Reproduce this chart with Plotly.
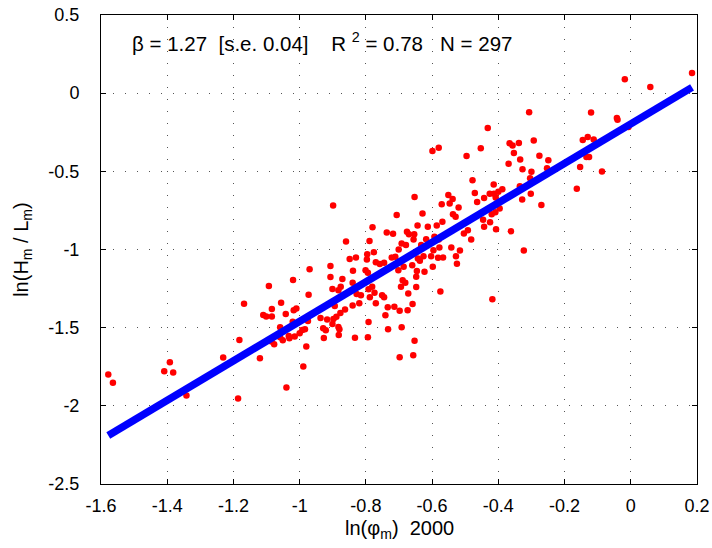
import plotly.graph_objects as go

# Estimated scatter data (ln(phi_m) 2000, ln(H_m/L_m))
x_pts = [
    -1.578, -1.564, -1.409, -1.392, -1.382, -1.342, -1.231, -1.186, -1.182, -1.168,
    -1.120, -1.093, -1.110, -1.101, -1.084, -1.084, -1.056, -1.042, -1.085, -1.077,
    -1.059, -1.059, -1.051, -1.033, -1.031, -1.040, -1.021,
    -0.899, -0.780, -0.737, -0.718, -0.860, -0.789,
    -0.849, -0.830, -0.796, -0.797, -0.776, -0.770, -0.758, -0.745, -0.722, -0.711,
    -0.907, -0.970, -0.839, -0.801, -0.794, -0.907, -0.871, -1.020, -0.840, -0.876,
    -0.901, -0.883, -0.792, -0.781, -0.774, -0.828, -0.815, -0.788, -0.751, -0.745,
    -0.973, -0.820, -0.770, -0.840, -0.894, -0.863, -0.734, -1.010, -1.018, -0.877,
    -0.889, -0.898, -0.937, -0.917, -0.741, -0.975, -0.901, -0.792, -0.883, -0.880,
    -0.929, -0.921, -0.984, -0.992, -1.000, -0.733, -0.882, -1.015, -0.833, -0.794,
    -0.927, -0.980, -0.989,
    -0.653, -0.551, -0.471, -0.443, -0.426, -0.413, -0.408, -0.538, -0.547, -0.571,
    -0.520, -0.464, -0.707, -0.629, -0.537, -0.529, -0.446, -0.420, -0.409, -0.569,
    -0.425, -0.644, -0.613, -0.586, -0.443, -0.407, -0.676, -0.670, -0.654, -0.656,
    -0.618, -0.593, -0.580, -0.504, -0.492, -0.482, -0.692, -0.679, -0.701, -0.633,
    -0.596, -0.578, -0.542, -0.516, -0.603, -0.626, -0.643, -0.637, -0.582, -0.567,
    -0.528, -0.525, -0.702, -0.686, -0.660, -0.598, -0.646, -0.623, -0.648, -0.689,
    -0.681, -0.694, -0.648, -0.575, -0.672, -0.659, -0.714, -0.698, -0.674, -0.418,
    -0.692, -0.653, -0.698, -0.657,
    -0.432, -0.599, -0.580, -0.453, -0.496, -0.366, -0.357, -0.353, -0.369, -0.478,
    -0.414, -0.388, -0.400,
    -0.307, -0.120, -0.338, -0.293, -0.334, -0.276, -0.249, -0.327, -0.300, -0.253,
    -0.304, -0.335, -0.302, -0.328, -0.270, -0.396, -0.362, -0.323, -0.145, -0.130,
    -0.112, -0.134, -0.126, -0.153, -0.087, -0.163,
    -0.018, 0.059, 0.185, -0.042, -0.040, -0.007,
]
y_pts = [
    -1.800, -1.853, -1.779, -1.721, -1.787, -1.934, -1.691, -1.953, -1.579, -1.347,
    -1.696, -1.234, -1.419, -1.428, -1.428, -1.381, -1.340, -1.413, -1.589, -1.606,
    -1.498, -1.562, -1.581, -1.553, -1.568, -1.883, -1.462,
    -0.719, -0.857, -0.891, -0.900, -0.949, -0.945,
    -1.061, -1.051, -1.030, -1.064, -1.017, -1.081, -1.093, -1.085, -1.051, -1.047,
    -1.106, -1.127, -1.136, -1.132, -1.149, -1.176, -1.189, -1.195, -1.212, -1.238,
    -1.253, -1.261, -1.255, -1.238, -1.276, -1.285, -1.293, -1.306, -1.293, -1.306,
    -1.289, -1.344, -1.344, -1.359, -1.361, -1.383, -1.370, -1.378, -1.389, -1.406,
    -1.430, -1.444, -1.438, -1.447, -1.421, -1.457, -1.476, -1.464, -1.495, -1.510,
    -1.504, -1.517, -1.510, -1.515, -1.536, -1.510, -1.547, -1.557, -1.564, -1.561,
    -1.566, -1.621, -1.749,
    -0.664, -0.651, -0.638, -0.670, -0.643, -0.643, -0.668, -0.677, -0.706, -0.711,
    -0.732, -0.696, -0.779, -0.770, -0.774, -0.791, -0.809, -0.774, -0.762, -0.823,
    -0.826, -0.847, -0.855, -0.847, -0.855, -0.870, -0.887, -0.902, -0.902, -0.936,
    -0.934, -0.919, -0.936, -0.898, -0.877, -0.936, -0.962, -0.972, -1.000, -0.972,
    -1.004, -0.987, -0.987, -1.006, -1.043, -1.043, -1.057, -1.072, -1.053, -1.051,
    -1.043, -1.091, -1.132, -1.111, -1.100, -1.111, -1.138, -1.143, -1.174, -1.196,
    -1.213, -1.238, -1.240, -1.268, -1.281, -1.349, -1.366, -1.391, -1.389, -1.319,
    -1.498, -1.583, -1.689, -1.677,
    -0.223, -0.370, -0.349, -0.353, -0.402, -0.321, -0.334, -0.383, -0.451, -0.557,
    -0.585, -0.615, -0.630,
    -0.122, -0.124, -0.318, -0.303, -0.424, -0.401, -0.429, -0.486, -0.503, -0.480,
    -0.544, -0.595, -0.644, -0.680, -0.716, -0.738, -0.883, -1.006, -0.299, -0.281,
    -0.296, -0.409, -0.409, -0.473, -0.501, -0.612,
    0.089, 0.039, 0.129, -0.159, -0.170, -0.216,
]

# Fitted regression line end points
fit_x = [-1.578, 0.185]
fit_y = [-2.190, 0.037]

x_ticks = [-1.6, -1.4, -1.2, -1.0, -0.8, -0.6, -0.4, -0.2, 0.0, 0.2]
x_tick_labels = ["-1.6", "-1.4", "-1.2", "-1", "-0.8", "-0.6", "-0.4", "-0.2", "0", "0.2"]
y_ticks = [-2.5, -2.0, -1.5, -1.0, -0.5, 0.0, 0.5]
y_tick_labels = ["-2.5", "-2", "-1.5", "-1", "-0.5", "0", "0.5"]

stats_text = "β = 1.27\u00a0\u00a0[s.e. 0.04]\u00a0\u00a0\u00a0\u00a0R <sup>2</sup> = 0.78\u00a0\u00a0\u00a0N = 297"
x_title = "ln(φ<sub>m</sub>)\u00a0\u00a02000"
y_title = "ln(H<sub>m</sub> / L<sub>m</sub>)"

FONT = "Liberation Sans, Arial, sans-serif"

fig = go.Figure()
fig.add_trace(go.Scatter(
    x=x_pts, y=y_pts, mode="markers",
    marker=dict(color="#ff0000", size=6.5, line=dict(width=0)),
    showlegend=False, hoverinfo="skip",
))
fig.add_trace(go.Scatter(
    x=fit_x, y=fit_y, mode="lines",
    line=dict(color="#0000ff", width=7.5),
    showlegend=False, hoverinfo="skip",
))

axis_common = dict(
    showline=True, linecolor="black", linewidth=1, mirror="ticks",
    ticks="inside", ticklen=5, tickcolor="black", tickwidth=1,
    showgrid=True, gridcolor="#555555", gridwidth=1, griddash="1px,11px",
    zeroline=False, automargin=False,
    tickfont=dict(family=FONT, size=18, color="black"),
)

fig.update_xaxes(range=[-1.6, 0.2], tickmode="array", tickvals=x_ticks,
                 ticktext=x_tick_labels, ticklabelstandoff=5, **axis_common)
fig.update_yaxes(range=[-2.5, 0.5], tickmode="array", tickvals=y_ticks,
                 ticktext=y_tick_labels, ticklabelstandoff=17, **axis_common)

fig.update_layout(
    width=712, height=548,
    margin=dict(l=101, r=15, t=15, b=64, autoexpand=False),
    paper_bgcolor="white", plot_bgcolor="white",
    font=dict(family=FONT, size=18, color="black"),
    annotations=[
        dict(text=stats_text, xref="paper", yref="paper", x=0.049, y=0.942,
             xanchor="left", yanchor="middle", showarrow=False,
             font=dict(family=FONT, size=20.5, color="black")),
        dict(text=x_title, xref="paper", yref="paper", x=0.5, y=-0.098,
             xanchor="center", yanchor="middle", showarrow=False,
             font=dict(family=FONT, size=20, color="black")),
        dict(text=y_title, xref="paper", yref="paper", x=-0.132, y=0.5,
             xanchor="center", yanchor="middle", showarrow=False, textangle=-90,
             font=dict(family=FONT, size=20, color="black")),
    ],
)

fig.write_html(
    "out.html",
    config={"displayModeBar": False},
    post_script="document.body.style.margin='0';document.body.style.padding='0';",
)
